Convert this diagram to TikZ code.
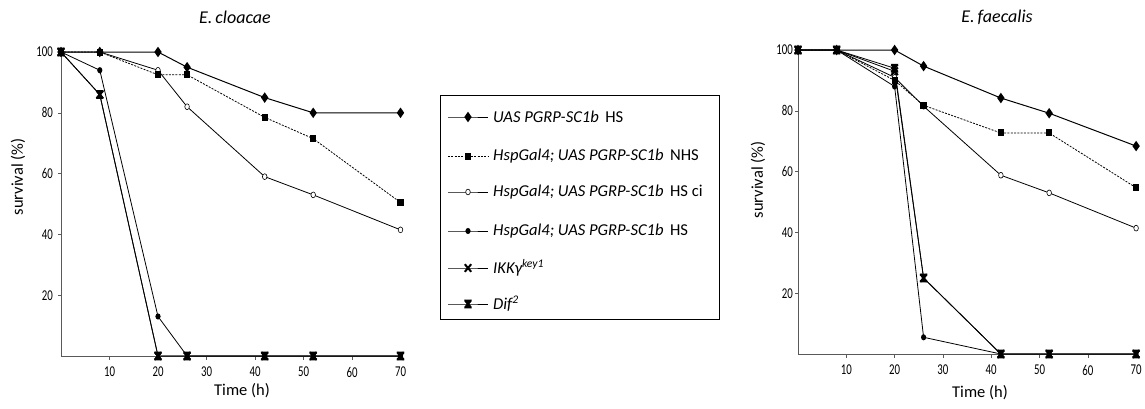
\documentclass[tikz,border=0pt]{standalone}
\usepackage{fontspec}
\usepackage{graphicx}
\setmainfont{Carlito}
\pgfdeclareplotmark{dmd}{\pgfpathmoveto{\pgfqpoint{0pt}{5.3pt}}\pgfpathlineto{\pgfqpoint{3.7pt}{0pt}}\pgfpathlineto{\pgfqpoint{0pt}{-5.3pt}}\pgfpathlineto{\pgfqpoint{-3.7pt}{0pt}}\pgfpathclose\pgfusepathqfill}
\pgfdeclareplotmark{sqr}{\pgfpathrectangle{\pgfqpoint{-3.1pt}{-3.5pt}}{\pgfqpoint{6.2pt}{7pt}}\pgfusepathqfill}
\pgfdeclareplotmark{ocirc}{\pgfsetlinewidth{0.6pt}\pgfpathellipse{\pgfpointorigin}{\pgfqpoint{2.3pt}{0pt}}{\pgfqpoint{0pt}{2.9pt}}\pgfsetfillcolor{white}\pgfusepathqfillstroke}
\pgfdeclareplotmark{fcirc}{\pgfpathellipse{\pgfpointorigin}{\pgfqpoint{2.6pt}{0pt}}{\pgfqpoint{0pt}{3.1pt}}\pgfusepathqfill}
\pgfdeclareplotmark{xmk}{\pgfsetlinewidth{2pt}\pgfpathmoveto{\pgfqpoint{-3.2pt}{-3.8pt}}\pgfpathlineto{\pgfqpoint{3.2pt}{3.8pt}}\pgfpathmoveto{\pgfqpoint{-3.2pt}{3.8pt}}\pgfpathlineto{\pgfqpoint{3.2pt}{-3.8pt}}\pgfusepathqstroke}
\pgfdeclareplotmark{difmk}{%
  \pgfpathmoveto{\pgfqpoint{-3.8pt}{4.4pt}}\pgfpathlineto{\pgfqpoint{3.8pt}{4.4pt}}%
  \pgfpathlineto{\pgfqpoint{1.2pt}{0pt}}\pgfpathlineto{\pgfqpoint{3.8pt}{-4.4pt}}%
  \pgfpathlineto{\pgfqpoint{-3.8pt}{-4.4pt}}\pgfpathlineto{\pgfqpoint{-1.2pt}{0pt}}\pgfpathclose\pgfusepathqfill
  \pgfsetlinewidth{1.8pt}\pgfpathmoveto{\pgfqpoint{-3.2pt}{-3.6pt}}\pgfpathlineto{\pgfqpoint{3.2pt}{3.6pt}}\pgfpathmoveto{\pgfqpoint{-3.2pt}{3.6pt}}\pgfpathlineto{\pgfqpoint{3.2pt}{-3.6pt}}\pgfusepathqstroke}
\newcommand{\tlab}[1]{\scalebox{0.72}[1]{#1}}
\tikzset{
  ser/.style={line width=0.8pt, black, mark options={solid}},
  serd/.style={ser, dash pattern=on 2pt off 1.3pt},
  axisline/.style={line width=1pt, black!65},
  ticklab/.style={font=\fontsize{15}{15}\selectfont, inner sep=0pt},
  title/.style={font=\fontsize{18}{18}\selectfont\itshape},
  axlab/.style={font=\fontsize{16.5}{16.5}\selectfont},
  legtext/.style={font=\fontsize{16.6}{16.6}\selectfont, anchor=west, inner sep=0pt},
}
\begin{document}
\begin{tikzpicture}[x=1pt,y=1pt]
\useasboundingbox (0,0) rectangle (1145,408);
% titles
\node[title] (t1) at (235,391) {E.\,cloacae};
\node[title] (t2) at (997,391) {E.\,faecalis};
\node[axlab, rotate=90] (yl1) at (18,231) {survival (\%)};
\node[axlab, rotate=90] (yl2) at (758,228) {survival (\%)};
\node[axlab] (xl1) at (242,17) {Time (h)};
\node[axlab] (xl2) at (980,15) {Time (h)};

% left plot
\begin{scope}[shift={(61pt,52pt)}, x=4.85pt, y=3.04pt]
  \draw[axisline] (0,100) -- (0,0) -- (70,0);
  \foreach \v in {10,20,...,70} {
    \draw[axisline, line width=0.6pt] (\v,0) -- ++(0,-3.5pt);
    \node[ticklab, anchor=north] (lx\v) at ([yshift=-11pt]\v,0) {\tlab{\v}};
  }
  \foreach \v in {20,40,...,100} {
    \draw[axisline, line width=0.6pt] (0,\v) -- ++(-3pt,0);
    \node[ticklab, anchor=east] (ly\v) at ([xshift=-8pt]0,\v) {\tlab{\v}};
  }
  \draw[ser, mark=difmk] plot coordinates {(0,100) (8,86) (20,0) (26,0) (42,0) (52,0) (70,0)};
  \draw[ser, mark=xmk] plot coordinates {(0,100) (8,86) (20,0) (26,0) (42,0) (52,0) (70,0)};
  \draw[ser, mark=fcirc] plot coordinates {(0,100) (8,94) (20,13) (26,0) (42,0) (52,0) (70,0)};
  \draw[ser, mark=ocirc] plot coordinates {(0,100) (8,100) (20,94) (26,82) (42,59) (52,53) (70,41.5)};
  \draw[serd, mark=sqr] plot coordinates {(0,100) (8,100) (20,92.5) (26,92.5) (42,78.5) (52,71.5) (70,50.5)};
  \draw[ser, line width=1pt, mark=dmd] plot coordinates {(0,100) (8,100) (20,100) (26,95) (42,85) (52,80) (70,80)};
\end{scope}

% right plot
\begin{scope}[shift={(798pt,54pt)}, x=4.83pt, y=3.04pt]
  \draw[axisline] (0,100) -- (0,0) -- (70,0);
  \foreach \v in {10,20,...,70} {
    \draw[axisline, line width=0.6pt] (\v,0) -- ++(0,-3.5pt);
    \node[ticklab, anchor=north] (rx\v) at ([yshift=-11pt]\v,0) {\tlab{\v}};
  }
  \foreach \v in {20,40,...,100} {
    \draw[axisline, line width=0.6pt] (0,\v) -- ++(-3pt,0);
    \node[ticklab, anchor=east] (ry\v) at ([xshift=-5pt]0,\v) {\tlab{\v}};
  }
  \draw[ser, mark=fcirc] plot coordinates {(0,100) (8,100) (20,88) (26,5.5) (42,0) (52,0) (70,0)};
  \draw[ser, mark=xmk] plot coordinates {(0,100) (8,100) (20,93) (26,25) (42,0) (52,0) (70,0)};
  \draw[ser, mark=difmk] plot coordinates {(0,100) (8,100) (20,94) (26,25) (42,0) (52,0) (70,0)};
  \draw[ser, mark=ocirc] plot coordinates {(0,100) (8,100) (20,91) (26,81.5) (42,58.8) (52,53) (70,41.4)};
  \draw[serd, mark=sqr] plot coordinates {(0,100) (8,100) (20,90) (26,81.8) (42,72.7) (52,72.7) (70,54.7)};
  \draw[ser, line width=1pt, mark=dmd] plot coordinates {(0,100) (8,100) (20,100) (26,94.7) (42,84.2) (52,79.2) (70,68.4)};
\end{scope}

% legend
\draw[line width=0.8pt] (440,89) rectangle (719,313);
\draw[ser, line width=1pt, mark=dmd, mark indices={2}] plot coordinates {(448,291) (468,291) (488,291)};
\node[legtext] (g1) at (493,291) {\textit{UAS PGRP-SC1b}\, HS};
\draw[serd, mark=sqr, mark indices={2}] plot coordinates {(448,252) (468,252) (488,252)};
\node[legtext] (g2) at (493,252) {\textit{HspGal4; UAS PGRP-SC1b}\, NHS};
\draw[ser, mark=ocirc, mark indices={2}] plot coordinates {(448,216) (468,216) (488,216)};
\node[legtext] (g3) at (493,216) {\textit{HspGal4; UAS PGRP-SC1b}\, HS ci};
\draw[ser, mark=fcirc, mark indices={2}] plot coordinates {(448,177) (468,177) (488,177)};
\node[legtext] (g4) at (493,177) {\textit{HspGal4; UAS PGRP-SC1b}\, HS};
\draw[ser, mark=xmk, mark indices={2}] plot coordinates {(448,140) (468,140) (488,140)};
\node[legtext] (g5) at (493,140) {\textit{IKKγ\textsuperscript{key1}}};
\draw[ser, mark=difmk, mark indices={2}] plot coordinates {(448,104) (468,104) (488,104)};
\node[legtext] (g6) at (493,104) {\textit{Dif\textsuperscript{2}}};
\end{tikzpicture}
\end{document}
